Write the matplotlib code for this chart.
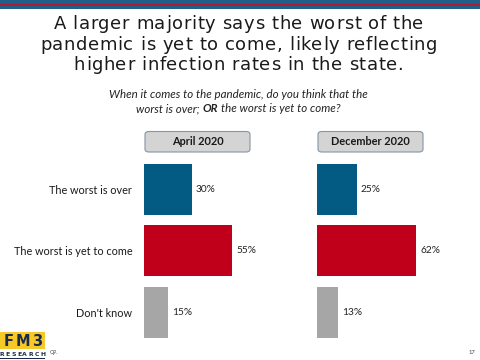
import matplotlib
matplotlib.use("Agg")
import matplotlib.pyplot as plt
from matplotlib.patches import FancyBboxPatch, Rectangle
from matplotlib.font_manager import FontProperties

# data
categories = ["The worst is over", "The worst is yet to come", "Don't know"]
april_vals = [30, 55, 15]
december_vals = [25, 62, 13]
panel_titles = ["April 2020", "December 2020"]
bar_colors = ["#035a82", "#c0001a", "#a6a6a6"]
title_lines = ["A larger majority says the worst of the",
               "pandemic is yet to come, likely reflecting",
               "higher infection rates in the state."]

W, H = 480, 360
fig = plt.figure(figsize=(W / 100, H / 100), dpi=100)
fig.patch.set_facecolor("white")
renderer = fig.canvas.get_renderer()


def fx(px):
    return px / W


def fy(py):
    return 1 - py / H


def text_w(s, prop):
    return renderer.get_text_width_height_descent(s, prop, ismath=False)[0]


def tracked_text(s, xc, y, prop, tracking, color):
    # letter-spaced line, centred on xc, baseline at y (pixels)
    total = text_w(s, prop) + tracking * (len(s) - 1)
    x0 = xc - total / 2
    for k, c in enumerate(s):
        if c == " ":
            continue
        x = text_w(s[:k + 1], prop) - text_w(c, prop) + k * tracking
        fig.text(fx(x0 + x), fy(y), c, ha="left", va="baseline",
                 fontproperties=prop, color=color)


# top stripes
for y0, y1, c in [(0, 3.5, "#1f5f8b"), (3.5, 5.8, "#b01c2e"), (5.8, 8.5, "#1f5f8b")]:
    fig.add_artist(Rectangle((0, fy(y1)), 1, (y1 - y0) / H, transform=fig.transFigure,
                             color=c, lw=0))

# title
tprop = FontProperties(family="DejaVu Sans", size=13)
for line, base in zip(title_lines, [29, 49.5, 70]):
    tracked_text(line, 238.5, base, tprop, 0.6, "#1a1a1a")

# subtitle
sprop = FontProperties(family="Lato", style="italic", size=8.3)
bprop = FontProperties(family="Lato", style="italic", weight="bold", size=8.3)
fig.text(fx(238.5), fy(95), "When it comes to the pandemic, do you think that the",
         ha="center", va="center", fontproperties=sprop, color="#222222")
part_a, part_b, part_c = "worst is over;", "OR", "the worst is yet to come?"
space = text_w("a a", sprop) - text_w("aa", sprop)
wa, wb, wc = text_w(part_a, sprop), text_w(part_b, bprop), text_w(part_c, sprop)
x = 238.5 - (wa + wb + wc + 2 * space) / 2
for part, prop, wpart in [(part_a, sprop, wa), (part_b, bprop, wb), (part_c, sprop, wc)]:
    fig.text(fx(x), fy(109), part, ha="left", va="center", fontproperties=prop,
             color="#222222")
    x += wpart + space

# panels
panel_left = [144, 317]
top_px, bot_px = 158.75, 342.75
for i, (vals, ptitle) in enumerate(zip([april_vals, december_vals], panel_titles)):
    left = panel_left[i]
    ax = fig.add_axes([fx(left), fy(bot_px), fx(160), (bot_px - top_px) / H])
    ypos = range(len(categories))
    ax.barh(ypos, vals, height=0.83, color=bar_colors)
    ax.set_xlim(0, 100)
    ax.set_ylim(2.5, -0.5)
    for y, v in zip(ypos, vals):
        ax.text(v + 2.5, y, f"{v}%", va="center", ha="left", fontsize=7.3,
                family="Lato", color="#222222")
    for s in ax.spines.values():
        s.set_visible(False)
    ax.set_xticks([])
    if i == 0:
        ax.set_yticks(list(ypos))
        ax.set_yticklabels(categories, fontsize=7.8, family="Lato", color="#1a1a1a")
        ax.tick_params(axis="y", length=0, pad=8.5)
    else:
        ax.set_yticks([])
    ax.patch.set_alpha(0)

    # header box
    box = FancyBboxPatch((fx(left + 1), fy(152)), fx(105), 20.5 / H,
                         boxstyle="round,pad=0,rounding_size=0.008",
                         transform=fig.transFigure, facecolor="#d4d4d4",
                         edgecolor="#8296a8", lw=0.8)
    fig.add_artist(box)
    fig.text(fx(left + 53.5), fy(141.5), ptitle, ha="center", va="center",
             fontsize=7.9, fontweight="bold", family="Lato", color="#1a1a1a")

# logo
fig.add_artist(Rectangle((0, fy(349)), fx(45), 17 / H, transform=fig.transFigure,
                         color="#f7c928", lw=0))
tracked_text("FM3", 23, 346, FontProperties(family="DejaVu Sans", weight="bold", size=10.5),
             1.6, "#1a2b4c")
tracked_text("RESEARCH", 22.5, 356, FontProperties(family="DejaVu Sans", weight="bold",
                                                   size=4.4), 1.3, "#1a2b4c")
fig.add_artist(Rectangle((0, fy(358.8)), fx(45), 1.2 / H, transform=fig.transFigure,
                         color="#1a2b4c", lw=0))
fig.text(fx(50), fy(352.5), "Q9.", ha="left", va="center", fontsize=3.8,
         family="Lato", color="#444444")
fig.text(fx(472), fy(352.5), "17", ha="center", va="center", fontsize=4.2,
         family="Lato", color="#444444")

fig.savefig("out.png", dpi=100)
